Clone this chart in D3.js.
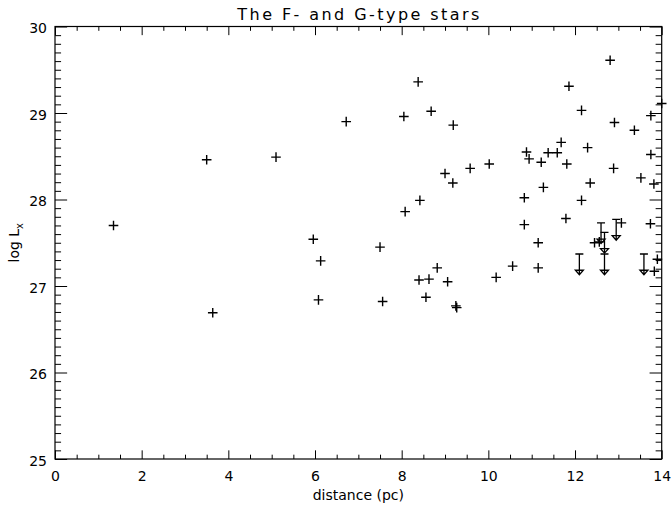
<!DOCTYPE html>
<html>
<head>
<meta charset="utf-8">
<script src="https://cdn.jsdelivr.net/npm/d3@7"></script>
<style>
  html, body { margin: 0; padding: 0; background: #fff; }
  svg { display: block; }
  text { font-family: "DejaVu Sans", "Liberation Sans", sans-serif; fill: #000; }
</style>
</head>
<body>
<svg id="chart" width="671" height="508"></svg>
<script>
// Detected stars: distance (pc) and log Lx
const distances = [1.35, 3.50, 3.64, 5.10, 5.96, 6.13, 6.08, 6.72, 7.50, 7.56,
  8.05, 8.08, 8.38, 8.42, 8.40, 8.63, 8.56, 8.68, 8.82, 9.00,
  9.06, 9.18, 9.19, 9.25, 9.27, 9.58, 10.02, 10.18, 10.56, 10.83,
  10.83, 10.88, 10.94, 11.15, 11.15, 11.22, 11.27, 11.38, 11.59, 11.68,
  11.79, 11.81, 11.86, 12.15, 12.15, 12.29, 12.35, 12.45, 12.56, 12.81,
  12.89, 12.91, 13.07, 13.37, 13.52, 13.74, 13.75, 13.75, 13.82, 13.90,
  13.83, 14.00];
const logLx = [27.70, 28.46, 26.69, 28.49, 27.54, 27.29, 26.84, 28.90, 27.45, 26.82,
  28.96, 27.86, 29.36, 27.99, 27.07, 27.08, 26.87, 29.02, 27.21, 28.30,
  27.05, 28.19, 28.86, 26.77, 26.75, 28.36, 28.41, 27.10, 27.23, 28.02,
  27.71, 28.55, 28.47, 27.50, 27.21, 28.43, 28.14, 28.54, 28.54, 28.66,
  27.78, 28.41, 29.31, 29.03, 27.99, 28.60, 28.19, 27.50, 27.51, 29.61,
  28.36, 28.89, 27.73, 28.80, 28.25, 27.72, 28.97, 28.52, 28.18, 27.31,
  27.17, 29.11];

// Upper limits (non-detections)
const limitDistances = [12.10, 12.60, 12.68, 12.68, 12.95, 13.59];
const limitLogLx = [27.37, 27.73, 27.62, 27.37, 27.77, 27.37];
const limitArrowLength = 0.24; // in log Lx units

// Axis ticks
const xMajorTicks = [0, 2, 4, 6, 8, 10, 12, 14];
const yMajorTicks = [25, 26, 27, 28, 29, 30];
const xDomain = [0, 14];
const yDomain = [25, 30];

const svg = d3.select("#chart");
const margin = { left: 55, right: 9.3, top: 26.5, bottom: 49 };
const W = 671, H = 508;
const x0 = margin.left, x1 = W - margin.right;
const y0 = H - margin.bottom, y1 = margin.top;

const x = d3.scaleLinear().domain(xDomain).range([x0, x1]);
const y = d3.scaleLinear().domain(yDomain).range([y0, y1]);

const plotW = x1 - x0, plotH = y0 - y1;
const xTickLen = 0.02 * plotH; // vertical ticks on horizontal axes
const yTickLen = 0.02 * plotW; // horizontal ticks on vertical axes

const xMinor = d3.range(0, 14.001, 0.5).filter(v => Math.abs(v / 2 - Math.round(v / 2)) > 1e-6);
const yMinor = d3.range(25, 30.001, 0.1).filter(v => Math.abs(v - Math.round(v)) > 1e-6);

function styleAxis(g) {
  g.select(".domain").remove();
  g.selectAll(".tick line").attr("stroke", "#000").attr("stroke-width", 1);
}

// Bottom axis: labelled majors + minors
svg.append("g").attr("transform", `translate(0,${y0})`)
  .call(d3.axisBottom(x).tickValues(xMajorTicks).tickSize(-xTickLen).tickPadding(12).tickFormat(d3.format("d")))
  .call(styleAxis)
  .call(g => g.selectAll("text").attr("font-size", 14).attr("font-family", "DejaVu Sans, sans-serif"));
svg.append("g").attr("transform", `translate(0,${y0})`)
  .call(d3.axisBottom(x).tickValues(xMinor).tickSize(-xTickLen / 2).tickFormat(""))
  .call(styleAxis);

// Top axis: ticks only
svg.append("g").attr("transform", `translate(0,${y1})`)
  .call(d3.axisTop(x).tickValues(xMajorTicks).tickSize(-xTickLen).tickFormat(""))
  .call(styleAxis);
svg.append("g").attr("transform", `translate(0,${y1})`)
  .call(d3.axisTop(x).tickValues(xMinor).tickSize(-xTickLen / 2).tickFormat(""))
  .call(styleAxis);

// Left axis
svg.append("g").attr("transform", `translate(${x0},0)`)
  .call(d3.axisLeft(y).tickValues(yMajorTicks).tickSize(-yTickLen).tickPadding(8).tickFormat(d3.format("d")))
  .call(styleAxis)
  .call(g => g.selectAll("text").attr("font-size", 14).attr("font-family", "DejaVu Sans, sans-serif").attr("dy", "0.45em"));
svg.append("g").attr("transform", `translate(${x0},0)`)
  .call(d3.axisLeft(y).tickValues(yMinor).tickSize(-yTickLen / 2).tickFormat(""))
  .call(styleAxis);

// Right axis: ticks only
svg.append("g").attr("transform", `translate(${x1},0)`)
  .call(d3.axisRight(y).tickValues(yMajorTicks).tickSize(-yTickLen).tickFormat(""))
  .call(styleAxis);
svg.append("g").attr("transform", `translate(${x1},0)`)
  .call(d3.axisRight(y).tickValues(yMinor).tickSize(-yTickLen / 2).tickFormat(""))
  .call(styleAxis);

// Plot frame
svg.append("rect")
  .attr("x", x0).attr("y", y1).attr("width", plotW).attr("height", plotH)
  .attr("fill", "none").attr("stroke", "#000").attr("stroke-width", 1.2);

// Detections as plus symbols
const stars = distances.map((d, i) => ({ d, l: logLx[i] }));
const plusSize = 4.8;
const pts = svg.append("g").attr("stroke", "#000").attr("stroke-width", 1.4).attr("fill", "none");
pts.selectAll("path.star").data(stars).join("path")
  .attr("class", "star")
  .attr("d", s => {
    const cx = x(s.d), cy = y(s.l);
    return `M${cx - plusSize},${cy}H${cx + plusSize}M${cx},${cy - plusSize}V${cy + plusSize}`;
  });

// Upper limits: capped bar with an open downward arrowhead
const limits = limitDistances.map((d, i) => ({ d, l: limitLogLx[i] }));
const lim = svg.append("g").attr("stroke", "#000").attr("stroke-width", 1.3).attr("fill", "none");
lim.selectAll("path.limit").data(limits).join("path")
  .attr("class", "limit")
  .attr("d", s => {
    const cx = x(s.d), top = y(s.l), tip = y(s.l - limitArrowLength);
    return `M${cx - 4},${top}H${cx + 4}M${cx},${top}V${tip}` +
           `M${cx - 4},${tip - 4.5}H${cx + 4}L${cx},${tip}Z`;
  });

// Title and axis labels
svg.append("text")
  .attr("x", (x0 + x1) / 2).attr("y", 20)
  .attr("text-anchor", "middle").attr("font-size", 16)
  .attr("textLength", 242).attr("lengthAdjust", "spacing")
  .text("The F- and G-type stars");

svg.append("text")
  .attr("x", (x0 + x1) / 2).attr("y", 500)
  .attr("text-anchor", "middle").attr("font-size", 14)
  .text("distance (pc)");

const yl = svg.append("text")
  .attr("transform", `translate(19,${(y0 + y1) / 2}) rotate(-90)`)
  .attr("text-anchor", "middle").attr("font-size", 14);
yl.append("tspan").text("log L");
yl.append("tspan").attr("font-size", 10).attr("dy", 4).text("x");
</script>
</body>
</html>
